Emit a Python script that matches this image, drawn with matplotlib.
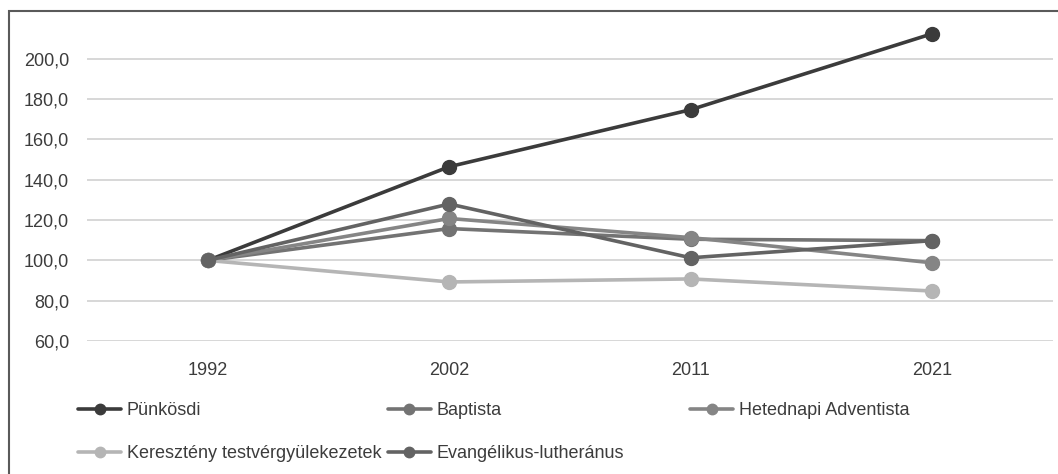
import matplotlib.pyplot as plt
from matplotlib.patches import Rectangle
from matplotlib.ticker import FuncFormatter

plt.rcParams['font.family'] = ['Liberation Sans', 'DejaVu Sans']

# data (index, 1992 = 100)
years = ['1992', '2002', '2011', '2021']
punkosdi = [100.0, 146.5, 174.8, 212.5]
baptista = [100.0, 115.8, 110.5, 109.8]
adventista = [100.0, 120.8, 111.3, 98.8]
kereszteny = [100.0, 89.3, 90.8, 84.8]
evangelikus = [100.0, 128.0, 101.3, 109.8]

series = [
    ('Pünkösdi', punkosdi, '#3b3b3b'),
    ('Baptista', baptista, '#737373'),
    ('Hetednapi Adventista', adventista, '#858585'),
    ('Keresztény testvérgyülekezetek', kereszteny, '#b5b5b5'),
    ('Evangélikus-lutheránus', evangelikus, '#636363'),
]

fig = plt.figure(figsize=(10.58, 4.74), dpi=100)
ax = fig.add_axes([87 / 1058, 1 - 341 / 474, 966 / 1058, (341 - 18.6) / 474])

x = list(range(len(years)))
lines = {}
for name, vals, col in series:
    ln, = ax.plot(x, vals, color=col, lw=2.6, marker='o', ms=10,
                  solid_capstyle='round', label=name, zorder=3)
    lines[name] = ln

ax.set_xlim(-0.5, 3.5)
ax.set_ylim(60, 220)
ax.set_yticks(range(60, 201, 20))
ax.yaxis.set_major_formatter(FuncFormatter(lambda v, p: f'{v:.1f}'.replace('.', ',')))
ax.set_xticks(x)
ax.set_xticklabels(years)
ax.grid(axis='y', color='#d4d4d4', lw=1.3)
ax.set_axisbelow(True)
for s in ax.spines.values():
    s.set_visible(False)
ax.tick_params(axis='both', length=0, labelsize=13, colors='#3c3c3c')
ax.tick_params(axis='x', pad=15)
ax.tick_params(axis='y', pad=13)

# legend: first two columns, then the third column on its own
leg_kw = dict(loc='upper left', frameon=False, fontsize=13, handlelength=2.4,
              handletextpad=0.3, borderpad=0, borderaxespad=0, markerscale=0.75,
              labelcolor='#3c3c3c')
order = ['Pünkösdi', 'Keresztény testvérgyülekezetek', 'Baptista', 'Evangélikus-lutheránus']
fig.legend([lines[n] for n in order], order, ncol=2,
           bbox_to_anchor=(78 / 1058, 1 - 402 / 474),
           columnspacing=0.35, labelspacing=1.45, **leg_kw)
fig.legend([lines['Hetednapi Adventista']], ['Hetednapi Adventista'],
           bbox_to_anchor=(690 / 1058, 1 - 402 / 474), **leg_kw)

# outer frame (cropped on the right and bottom)
fig.patches.append(Rectangle((9 / 1058, -0.1), 1.2, 1 - 11.5 / 474 + 0.1,
                             transform=fig.transFigure, fill=False,
                             edgecolor='#5a5a5a', lw=1.5))

fig.savefig('out.png', dpi=100)
